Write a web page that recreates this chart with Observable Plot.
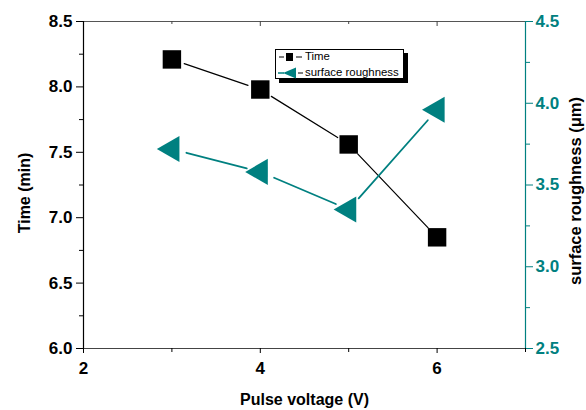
<!DOCTYPE html>
<html><head><meta charset="utf-8">
<script src="https://cdn.jsdelivr.net/npm/d3@7"></script>
<script src="https://cdn.jsdelivr.net/npm/@observablehq/plot@0.6"></script>
<style>
body{margin:0;background:#fff;}
#wrap{position:relative;width:586px;height:410px;font-family:"Liberation Sans",Arial,sans-serif;}
#legend{position:absolute;left:275px;top:49px;width:127px;height:28px;border:1px solid #000;background:#fff;box-shadow:4px 4px 0 #000;font-size:11.4px;color:#000;}
#legend svg{position:absolute;left:0;top:0;}
#legend span{position:absolute;left:29px;line-height:13px;}
</style></head><body><div id="wrap"></div>
<script>
// data
const voltage = [3, 4, 5, 6];
const time = [8.21, 7.98, 7.56, 6.85];
const roughness = [3.72, 3.58, 3.35, 3.96];
// ticks
const timeTicks = [6.0, 6.5, 7.0, 7.5, 8.0, 8.5];
const timeMinor = [6.25, 6.75, 7.25, 7.75, 8.25];
const roughTicks = [2.5, 3.0, 3.5, 4.0, 4.5];
const roughMinor = [2.75, 3.25, 3.75, 4.25];
const xTicks = [2, 4, 6];
const xMinor = [3, 5, 7];
const xTopMajor = [4, 6];
const xTopMinor = [3, 5];
const seriesNames = ["Time", "surface roughness"];
const labels = {x: "Pulse voltage (V)", yLeft: "Time (min)", yRight: "surface roughness (μm)"};

const teal = "#008080";
// roughness axis (2.5–4.5) mapped onto time axis (6–8.5)
const toY = r => 6 + (r - 2.5) * 1.25;
const fromY = t => (t - 6) / 1.25 + 2.5;

const table = voltage.map((v, i) => ({v, t: time[i], r: roughness[i]}));
const segs = key => table.slice(1).map((d, i) => ({
  x1: table[i].v, x2: d.v,
  y1: key === "t" ? table[i].t : toY(table[i].r),
  y2: key === "t" ? d.t : toY(d.r)
}));

const plot = Plot.plot({
  width: 586, height: 410,
  marginLeft: 83, marginRight: 61, marginTop: 21, marginBottom: 62,
  style: {fontFamily: "'Liberation Sans', Arial, sans-serif", background: "white", color: "black"},
  x: {domain: [2, 7]},
  y: {domain: [6, 8.5]},
  marks: [
    Plot.ruleY([8.5], {stroke: "#555", strokeWidth: 1.2}),
    Plot.ruleY([6], {stroke: "#444", strokeWidth: 1.2}),
    Plot.ruleX([2], {stroke: "black", strokeWidth: 1.2}),
    Plot.ruleX([7], {stroke: teal, strokeWidth: 1.2}),
    // left axis
    Plot.axisY({anchor: "left", ticks: timeTicks, tickSize: 7, tickPadding: 4, tickFormat: d => d.toFixed(1), fontSize: 17, fontWeight: "bold", label: null}),
    Plot.axisY({anchor: "left", ticks: timeMinor, tickSize: 4, tickFormat: () => "", label: null}),
    // right axis
    Plot.axisY({anchor: "right", ticks: roughTicks.map(toY), tickSize: 7, tickPadding: 3, tickFormat: t => fromY(t).toFixed(1), fontSize: 17, fontWeight: "bold", color: teal, label: null}),
    Plot.axisY({anchor: "right", ticks: roughMinor.map(toY), tickSize: 4, tickFormat: () => "", color: teal, label: null}),
    // bottom axis
    Plot.axisX({anchor: "bottom", ticks: xTicks, tickSize: 5, tickPadding: 8, tickFormat: d => String(d), fontSize: 17, fontWeight: "bold", label: null}),
    Plot.axisX({anchor: "bottom", ticks: xMinor, tickSize: 4, tickFormat: () => "", label: null}),
    // top inward ticks
    Plot.ruleX(xTopMajor, {stroke: "#444", insetBottom: 322}),
    Plot.ruleX(xTopMinor, {stroke: "#444", insetBottom: 324}),
    // connecting lines with gaps
    Plot.arrow(segs("t"), {x1: "x1", y1: "y1", x2: "x2", y2: "y2", stroke: "black", strokeWidth: 1.2, headLength: 0, insetStart: 13, insetEnd: 13}),
    Plot.arrow(segs("r"), {x1: "x1", y1: "y1", x2: "x2", y2: "y2", stroke: teal, strokeWidth: 1.8, headLength: 0, insetStart: 15, insetEnd: 14}),
    // markers
    Plot.dot(table, {x: "v", y: "t", symbol: "square", r: 10.4, fill: "black", stroke: "none"}),
    Plot.dot(table, {x: "v", y: d => toY(d.r), symbol: "triangle", rotate: -90, r: 9.7, fill: teal, stroke: "none"}),
    // axis titles
    Plot.text([labels.x], {frameAnchor: "bottom", lineAnchor: "middle", textAnchor: "middle", dy: 51, fontSize: 16, fontWeight: "bold"}),
    Plot.text([labels.yLeft], {frameAnchor: "left", lineAnchor: "middle", textAnchor: "middle", dx: -59, dy: 8, rotate: -90, fontSize: 16, fontWeight: "bold"}),
    Plot.text([labels.yRight], {frameAnchor: "right", lineAnchor: "middle", textAnchor: "middle", dx: 50, dy: 6, rotate: -90, fontSize: 16.5, fontWeight: "bold"})
  ]
});
const wrap = document.getElementById("wrap");
wrap.appendChild(plot);

const leg = document.createElement("div");
leg.id = "legend";
leg.innerHTML = `
<svg width="30" height="30">
  <line x1="3" x2="8" y1="7" y2="7" stroke="#000" stroke-width="1"/>
  <rect x="10" y="3" width="7" height="8" fill="#000"/>
  <line x1="20" x2="26" y1="7" y2="7" stroke="#000" stroke-width="1"/>
  <line x1="2" x2="8" y1="23" y2="23" stroke="${teal}" stroke-width="1.5"/>
  <path d="M7,23 L20,17.5 L20,28.5 Z" fill="${teal}"/>
  <line x1="22" x2="27" y1="23" y2="23" stroke="#000" stroke-width="1"/>
</svg>
<span style="top:0px">${seriesNames[0]}</span>
<span style="top:16px">${seriesNames[1]}</span>`;
wrap.appendChild(leg);
</script>
</body></html>
